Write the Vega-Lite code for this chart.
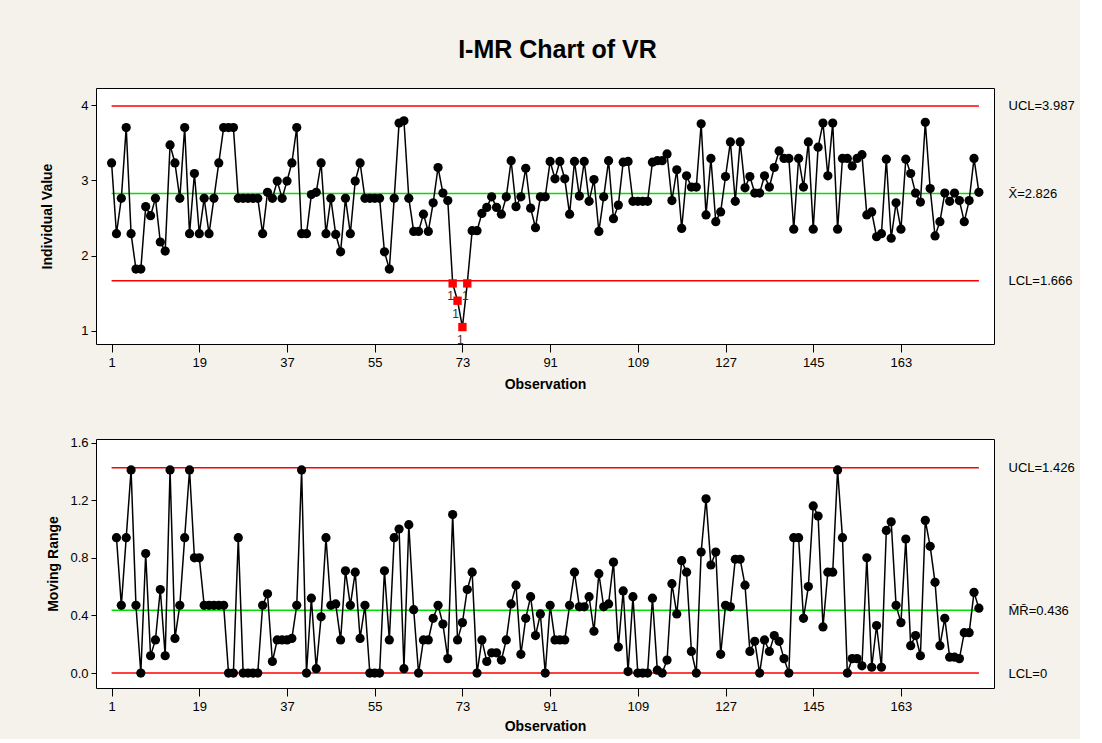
{
  "$schema": "https://vega.github.io/schema/vega-lite/v6.json",
  "autosize": {"type": "pad"},
  "padding": {"left": 40, "top": 37, "right": 5, "bottom": 5},
  "background": "#F4F2EA",
  "title": {"text": "I-MR Chart of VR", "fontSize": 25, "font": "Liberation Sans", "fontWeight": "bold", "anchor": "middle", "offset": 25, "color": "black"},
  "bounds": "flush",
  "spacing": 95,
  "datasets": {
    "obs": [
      {"obs":1,"I":3.23},{"obs":2,"I":2.29,"MR":0.94},{"obs":3,"I":2.76,"MR":0.47},{"obs":4,"I":3.70,"MR":0.94},{"obs":5,"I":2.29,"MR":1.41},
      {"obs":6,"I":1.82,"MR":0.47},{"obs":7,"I":1.82,"MR":0},{"obs":8,"I":2.65,"MR":0.83},{"obs":9,"I":2.53,"MR":0.12},{"obs":10,"I":2.76,"MR":0.23},
      {"obs":11,"I":2.18,"MR":0.58},{"obs":12,"I":2.06,"MR":0.12},{"obs":13,"I":3.47,"MR":1.41},{"obs":14,"I":3.23,"MR":0.24},{"obs":15,"I":2.76,"MR":0.47},
      {"obs":16,"I":3.70,"MR":0.94},{"obs":17,"I":2.29,"MR":1.41},{"obs":18,"I":3.09,"MR":0.80},{"obs":19,"I":2.29,"MR":0.80},{"obs":20,"I":2.76,"MR":0.47},
      {"obs":21,"I":2.29,"MR":0.47},{"obs":22,"I":2.76,"MR":0.47},{"obs":23,"I":3.23,"MR":0.47},{"obs":24,"I":3.70,"MR":0.47},{"obs":25,"I":3.70,"MR":0},
      {"obs":26,"I":3.70,"MR":0},{"obs":27,"I":2.76,"MR":0.94},{"obs":28,"I":2.76,"MR":0},{"obs":29,"I":2.76,"MR":0},{"obs":30,"I":2.76,"MR":0},
      {"obs":31,"I":2.76,"MR":0},{"obs":32,"I":2.29,"MR":0.47},{"obs":33,"I":2.84,"MR":0.55},{"obs":34,"I":2.76,"MR":0.08},{"obs":35,"I":2.99,"MR":0.23},
      {"obs":36,"I":2.76,"MR":0.23},{"obs":37,"I":2.99,"MR":0.23},{"obs":38,"I":3.23,"MR":0.24},{"obs":39,"I":3.70,"MR":0.47},{"obs":40,"I":2.29,"MR":1.41},
      {"obs":41,"I":2.29,"MR":0},{"obs":42,"I":2.81,"MR":0.52},{"obs":43,"I":2.84,"MR":0.03},{"obs":44,"I":3.23,"MR":0.39},{"obs":45,"I":2.29,"MR":0.94},
      {"obs":46,"I":2.76,"MR":0.47},{"obs":47,"I":2.28,"MR":0.48},{"obs":48,"I":2.05,"MR":0.23},{"obs":49,"I":2.76,"MR":0.71},{"obs":50,"I":2.29,"MR":0.47},
      {"obs":51,"I":2.99,"MR":0.70},{"obs":52,"I":3.23,"MR":0.24},{"obs":53,"I":2.76,"MR":0.47},{"obs":54,"I":2.76,"MR":0},{"obs":55,"I":2.76,"MR":0},
      {"obs":56,"I":2.76,"MR":0},{"obs":57,"I":2.05,"MR":0.71},{"obs":58,"I":1.82,"MR":0.23},{"obs":59,"I":2.76,"MR":0.94},{"obs":60,"I":3.76,"MR":1.00},
      {"obs":61,"I":3.79,"MR":0.03},{"obs":62,"I":2.76,"MR":1.03},{"obs":63,"I":2.32,"MR":0.44},{"obs":64,"I":2.32,"MR":0},{"obs":65,"I":2.55,"MR":0.23},
      {"obs":66,"I":2.32,"MR":0.23},{"obs":67,"I":2.70,"MR":0.38},{"obs":68,"I":3.17,"MR":0.47},{"obs":69,"I":2.83,"MR":0.34},{"obs":70,"I":2.73,"MR":0.10},
      {"obs":71,"I":1.63,"MR":1.10,"test":"1"},{"obs":72,"I":1.40,"MR":0.23,"test":"1"},{"obs":73,"I":1.05,"MR":0.35,"test":"1"},{"obs":74,"I":1.63,"MR":0.58,"test":"1"},{"obs":75,"I":2.33,"MR":0.70},
      {"obs":76,"I":2.33,"MR":0},{"obs":77,"I":2.56,"MR":0.23},{"obs":78,"I":2.64,"MR":0.08},{"obs":79,"I":2.78,"MR":0.14},{"obs":80,"I":2.64,"MR":0.14},
      {"obs":81,"I":2.55,"MR":0.09},{"obs":82,"I":2.78,"MR":0.23},{"obs":83,"I":3.26,"MR":0.48},{"obs":84,"I":2.65,"MR":0.61},{"obs":85,"I":2.78,"MR":0.13},
      {"obs":86,"I":3.16,"MR":0.38},{"obs":87,"I":2.63,"MR":0.53},{"obs":88,"I":2.37,"MR":0.26},{"obs":89,"I":2.78,"MR":0.41},{"obs":90,"I":2.78,"MR":0},
      {"obs":91,"I":3.25,"MR":0.47},{"obs":92,"I":3.02,"MR":0.23},{"obs":93,"I":3.25,"MR":0.23},{"obs":94,"I":3.02,"MR":0.23},{"obs":95,"I":2.55,"MR":0.47},
      {"obs":96,"I":3.25,"MR":0.70},{"obs":97,"I":2.79,"MR":0.46},{"obs":98,"I":3.25,"MR":0.46},{"obs":99,"I":2.72,"MR":0.53},{"obs":100,"I":3.01,"MR":0.29},
      {"obs":101,"I":2.32,"MR":0.69},{"obs":102,"I":2.78,"MR":0.46},{"obs":103,"I":3.26,"MR":0.48},{"obs":104,"I":2.49,"MR":0.77},{"obs":105,"I":2.67,"MR":0.18},
      {"obs":106,"I":3.24,"MR":0.57},{"obs":107,"I":3.25,"MR":0.01},{"obs":108,"I":2.72,"MR":0.53},{"obs":109,"I":2.72,"MR":0},{"obs":110,"I":2.72,"MR":0},
      {"obs":111,"I":2.72,"MR":0},{"obs":112,"I":3.24,"MR":0.52},{"obs":113,"I":3.26,"MR":0.02},{"obs":114,"I":3.26,"MR":0},{"obs":115,"I":3.35,"MR":0.09},
      {"obs":116,"I":2.73,"MR":0.62},{"obs":117,"I":3.14,"MR":0.41},{"obs":118,"I":2.36,"MR":0.78},{"obs":119,"I":3.06,"MR":0.70},{"obs":120,"I":2.91,"MR":0.15},
      {"obs":121,"I":2.91,"MR":0},{"obs":122,"I":3.75,"MR":0.84},{"obs":123,"I":2.54,"MR":1.21},{"obs":124,"I":3.29,"MR":0.75},{"obs":125,"I":2.45,"MR":0.84},
      {"obs":126,"I":2.58,"MR":0.13},{"obs":127,"I":3.05,"MR":0.47},{"obs":128,"I":3.51,"MR":0.46},{"obs":129,"I":2.72,"MR":0.79},{"obs":130,"I":3.51,"MR":0.79},
      {"obs":131,"I":2.90,"MR":0.61},{"obs":132,"I":3.05,"MR":0.15},{"obs":133,"I":2.83,"MR":0.22},{"obs":134,"I":2.83,"MR":0},{"obs":135,"I":3.06,"MR":0.23},
      {"obs":136,"I":2.91,"MR":0.15},{"obs":137,"I":3.17,"MR":0.26},{"obs":138,"I":3.39,"MR":0.22},{"obs":139,"I":3.29,"MR":0.10},{"obs":140,"I":3.29,"MR":0},
      {"obs":141,"I":2.35,"MR":0.94},{"obs":142,"I":3.29,"MR":0.94},{"obs":143,"I":2.91,"MR":0.38},{"obs":144,"I":3.51,"MR":0.60},{"obs":145,"I":2.35,"MR":1.16},
      {"obs":146,"I":3.44,"MR":1.09},{"obs":147,"I":3.76,"MR":0.32},{"obs":148,"I":3.06,"MR":0.70},{"obs":149,"I":3.76,"MR":0.70},{"obs":150,"I":2.35,"MR":1.41},
      {"obs":151,"I":3.29,"MR":0.94},{"obs":152,"I":3.29,"MR":0},{"obs":153,"I":3.19,"MR":0.10},{"obs":154,"I":3.29,"MR":0.10},{"obs":155,"I":3.34,"MR":0.05},
      {"obs":156,"I":2.54,"MR":0.80},{"obs":157,"I":2.58,"MR":0.04},{"obs":158,"I":2.25,"MR":0.33},{"obs":159,"I":2.29,"MR":0.04},{"obs":160,"I":3.28,"MR":0.99},
      {"obs":161,"I":2.23,"MR":1.05},{"obs":162,"I":2.70,"MR":0.47},{"obs":163,"I":2.35,"MR":0.35},{"obs":164,"I":3.28,"MR":0.93},{"obs":165,"I":3.09,"MR":0.19},
      {"obs":166,"I":2.83,"MR":0.26},{"obs":167,"I":2.71,"MR":0.12},{"obs":168,"I":3.77,"MR":1.06},{"obs":169,"I":2.89,"MR":0.88},{"obs":170,"I":2.26,"MR":0.63},
      {"obs":171,"I":2.45,"MR":0.19},{"obs":172,"I":2.83,"MR":0.38},{"obs":173,"I":2.72,"MR":0.11},{"obs":174,"I":2.83,"MR":0.11},{"obs":175,"I":2.73,"MR":0.10},
      {"obs":176,"I":2.45,"MR":0.28},{"obs":177,"I":2.73,"MR":0.28},{"obs":178,"I":3.29,"MR":0.56},{"obs":179,"I":2.84,"MR":0.45}
    ],
    "limitsI": [
      {"name": "UCL", "value": 3.987, "kind": "limit"},
      {"name": "X-bar", "value": 2.826, "kind": "center"},
      {"name": "LCL", "value": 1.666, "kind": "limit"}
    ],
    "limitsMR": [
      {"name": "UCL", "value": 1.426, "kind": "limit"},
      {"name": "MR-bar", "value": 0.436, "kind": "center"},
      {"name": "LCL", "value": 0, "kind": "limit"}
    ]
  },
  "vconcat": [
    {
      "width": 898,
      "height": 256,
      "layer": [
        {
          "data": {"name": "limitsI"},
          "mark": {"type": "rule", "strokeWidth": 1.5},
          "encoding": {
            "x": {"datum": 1, "type": "quantitative", "scale": {"domain": [-2.2, 182.1], "nice": false, "zero": false}},
            "x2": {"datum": 179},
            "y": {"field": "value", "type": "quantitative", "scale": {"domain": [0.825, 4.226], "nice": false, "zero": false},
                  "axis": {"orient": "right", "values": [1.666, 2.826, 3.987], "ticks": false, "labelPadding": 14, "title": null,
                           "labelExpr": "datum.value > 3.5 ? 'UCL=3.987' : datum.value > 2 ? 'X\u0304=2.826' : 'LCL=1.666'"}},
            "color": {"field": "kind", "type": "nominal", "scale": {"domain": ["limit", "center"], "range": ["#FF0000", "#00E000"]}, "legend": null}
          }
        },
        {
          "data": {"name": "obs"},
          "mark": {"type": "line", "color": "black", "strokeWidth": 1.5},
          "encoding": {
            "x": {"field": "obs", "type": "quantitative", "scale": {"domain": [-2.2, 182.1], "nice": false, "zero": false},
                  "axis": {"values": [1, 19, 37, 55, 73, 91, 109, 127, 145, 163], "title": "Observation", "tickSize": 8, "labelPadding": 4, "titlePadding": 8}},
            "y": {"field": "I", "type": "quantitative", "scale": {"domain": [0.825, 4.226], "nice": false, "zero": false},
                  "axis": {"orient": "left", "values": [1, 2, 3, 4], "title": "Individual Value", "titlePadding": 26, "labelPadding": 3}}
          }
        },
        {
          "data": {"name": "obs"},
          "transform": [{"filter": "!datum.test"}],
          "mark": {"type": "point", "shape": "circle", "filled": true, "color": "black", "size": 85, "opacity": 1},
          "encoding": {
            "x": {"field": "obs", "type": "quantitative"},
            "y": {"field": "I", "type": "quantitative", "scale": {"domain": [0.825, 4.226], "nice": false, "zero": false}, "axis": null}
          }
        },
        {
          "data": {"name": "obs"},
          "transform": [{"filter": "datum.test"}],
          "mark": {"type": "point", "shape": "square", "filled": true, "color": "#FF0000", "size": 70, "opacity": 1},
          "encoding": {
            "x": {"field": "obs", "type": "quantitative"},
            "y": {"field": "I", "type": "quantitative", "scale": {"domain": [0.825, 4.226], "nice": false, "zero": false}, "axis": null}
          }
        },
        {
          "data": {"name": "obs"},
          "transform": [{"filter": "datum.test"}],
          "mark": {"type": "text", "font": "Liberation Sans", "fontSize": 12, "color": "#333333", "dx": -2, "dy": 13},
          "encoding": {
            "x": {"field": "obs", "type": "quantitative"},
            "y": {"field": "I", "type": "quantitative", "scale": {"domain": [0.825, 4.226], "nice": false, "zero": false}, "axis": null},
            "text": {"field": "test"}
          }
        }
      ],
      "resolve": {"axis": {"y": "independent"}}
    },
    {
      "width": 898,
      "height": 249,
      "layer": [
        {
          "data": {"name": "limitsMR"},
          "mark": {"type": "rule", "strokeWidth": 1.5},
          "encoding": {
            "x": {"datum": 1, "type": "quantitative", "scale": {"domain": [-2.2, 182.1], "nice": false, "zero": false}},
            "x2": {"datum": 179},
            "y": {"field": "value", "type": "quantitative", "scale": {"domain": [-0.104, 1.625], "nice": false, "zero": false},
                  "axis": {"orient": "right", "values": [0, 0.436, 1.426], "ticks": false, "labelPadding": 14, "title": null,
                           "labelExpr": "datum.value > 1 ? 'UCL=1.426' : datum.value > 0.2 ? 'M\u0304R\u0304=0.436' : 'LCL=0'"}},
            "color": {"field": "kind", "type": "nominal", "scale": {"domain": ["limit", "center"], "range": ["#FF0000", "#00E000"]}, "legend": null}
          }
        },
        {
          "data": {"name": "obs"},
          "transform": [{"filter": "isValid(datum.MR)"}],
          "mark": {"type": "line", "color": "black", "strokeWidth": 1.5},
          "encoding": {
            "x": {"field": "obs", "type": "quantitative", "scale": {"domain": [-2.2, 182.1], "nice": false, "zero": false},
                  "axis": {"values": [1, 19, 37, 55, 73, 91, 109, 127, 145, 163], "title": "Observation", "tickSize": 8, "labelPadding": 4, "titlePadding": 6}},
            "y": {"field": "MR", "type": "quantitative", "scale": {"domain": [-0.104, 1.625], "nice": false, "zero": false},
                  "axis": {"orient": "left", "values": [0, 0.4, 0.8, 1.2, 1.6], "format": ".1f", "title": "Moving Range", "titlePadding": 9, "labelPadding": 3}}
          }
        },
        {
          "data": {"name": "obs"},
          "transform": [{"filter": "isValid(datum.MR)"}],
          "mark": {"type": "point", "shape": "circle", "filled": true, "color": "black", "size": 85, "opacity": 1},
          "encoding": {
            "x": {"field": "obs", "type": "quantitative"},
            "y": {"field": "MR", "type": "quantitative", "scale": {"domain": [-0.104, 1.625], "nice": false, "zero": false}, "axis": null}
          }
        }
      ],
      "resolve": {"axis": {"y": "independent"}}
    }
  ],
  "config": {
    "view": {"fill": "white", "stroke": "black", "strokeWidth": 1},
    "axis": {
      "labelFont": "Liberation Sans", "labelFontSize": 13, "labelColor": "black",
      "titleFont": "Liberation Sans", "titleFontSize": 14, "titleFontWeight": "bold", "titleColor": "black",
      "tickColor": "black", "tickSize": 5, "domain": false, "grid": false
    }
  }
}
